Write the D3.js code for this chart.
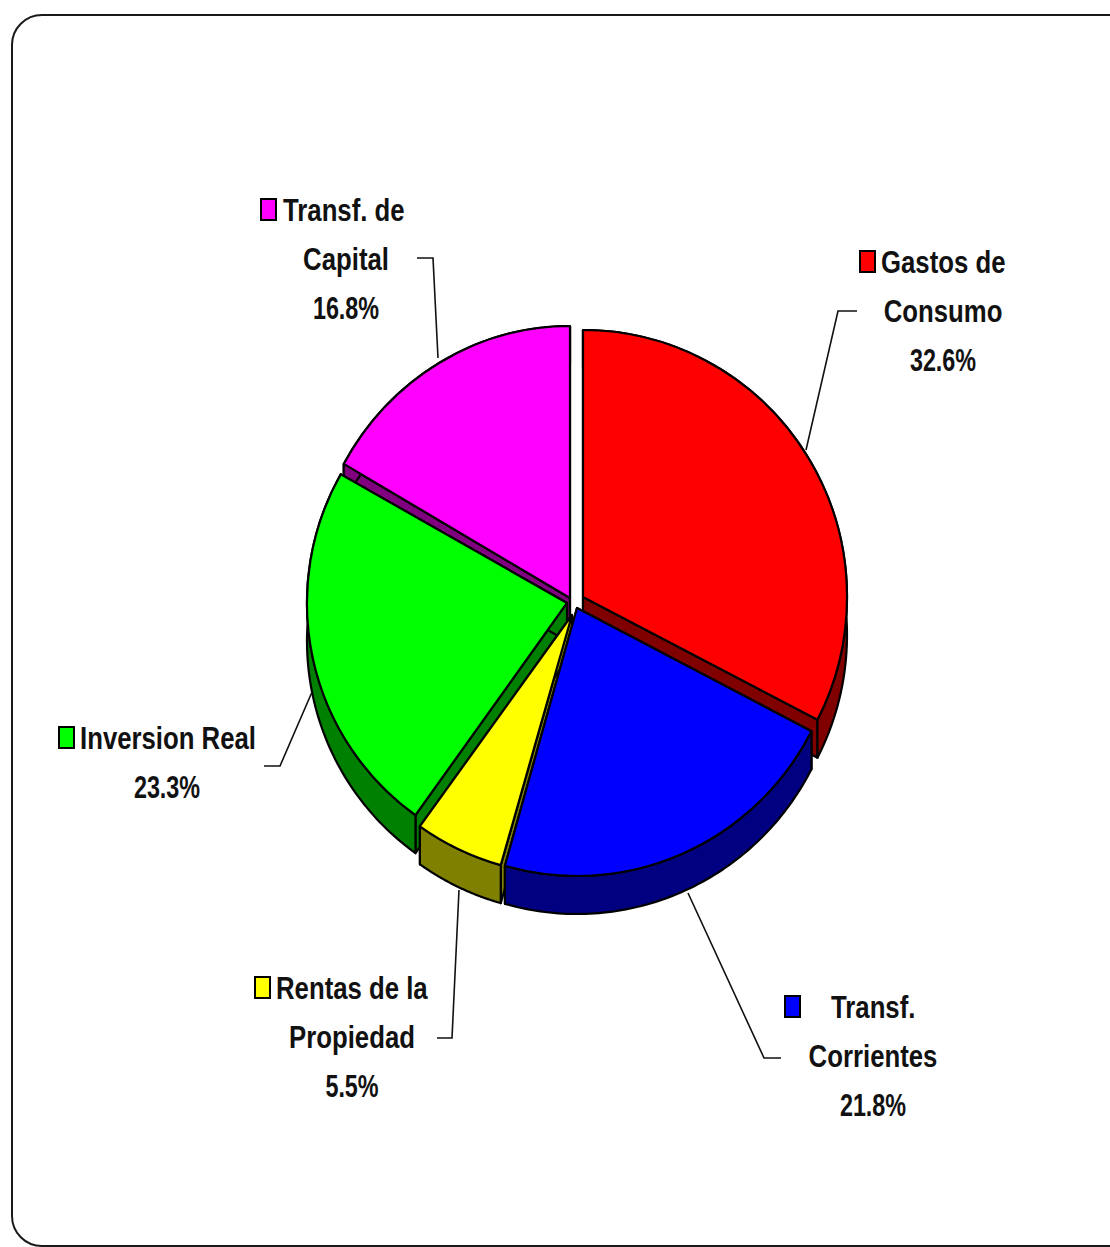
<!DOCTYPE html>
<html>
<head>
<meta charset="utf-8">
<style>html,body{margin:0;padding:0;background:#fff;overflow:hidden}svg{display:block}</style>
<script src="https://cdn.jsdelivr.net/npm/d3@7/dist/d3.min.js"></script>
</head>
<body>
<svg id="c" width="1110" height="1247"></svg>
<script>
const categories = ["Gastos de Consumo", "Transf. Corrientes", "Rentas de la Propiedad", "Inversion Real", "Transf. de Capital"];
const values = [32.6, 21.8, 5.5, 23.3, 16.8];
const topColors = ["#ff0000", "#0000ff", "#ffff00", "#00ff00", "#ff00ff"];
const sideColors = ["#800000", "#000080", "#808000", "#008000", "#800080"];
const valueLabels = ["32.6%", "21.8%", "5.5%", "23.3%", "16.8%"];

// layout, in the same order as categories
const labelLines = [["Gastos de", "Consumo"], ["Transf.", "Corrientes"], ["Rentas de la", "Propiedad"], ["Inversion Real"], ["Transf. de", "Capital"]];
const keyPos = [[860, 251], [785, 996], [255, 977], [59, 727], [261, 199]];
const firstTextX = [881, 831, 276, 80, 283];
const centerX = [943, 873, 352, 167, 346];
const leaders = [
  [[857, 311], [838, 311], [806, 450]],
  [[781, 1058], [764, 1058], [688, 893]],
  [[437, 1038], [452, 1038], [459, 890]],
  [[264, 766], [280, 766], [312, 692]],
  [[417, 258], [433, 258], [438, 358]]
];
const apexes = [[583, 597], [577, 608], [572, 615], [567, 603], [570, 598]];
const radiiX = [264, 264, 261, 260, 260];
const radiiY = [267, 268, 260, 261, 272];
const depth = 38;

const svg = d3.select("#c");

// frame
svg.append("rect").attr("x", 12).attr("y", 15).attr("width", 1130).attr("height", 1231)
  .attr("rx", 30).attr("ry", 30).attr("fill", "#fff").attr("stroke", "#1a1a1a").attr("stroke-width", 2);

const arcs = d3.pie().sort(null).value(d => d)(values);
const pt = (i, a, dy) => [apexes[i][0] + radiiX[i] * Math.sin(a), apexes[i][1] - radiiY[i] * Math.cos(a) + dy];
const arcPts = (i, dy, rev) => {
  const d = arcs[i], n = 80;
  const pts = d3.range(n + 1).map(k => pt(i, d.startAngle + (d.endAngle - d.startAngle) * k / n, dy));
  return rev ? pts.reverse() : pts;
};
const line = d3.line();
const style = (s, fill) => s.attr("fill", fill).attr("stroke", "#000").attr("stroke-width", 2.2).attr("stroke-linejoin", "round");

const sideG = svg.append("g");
[0, 4, 3, 2, 1].forEach(i => {
  const d = arcs[i], o = apexes[i];
  const apexB = [o[0], o[1] + depth];
  [d.startAngle, d.endAngle].forEach(a => {
    style(sideG.append("path").attr("d", line([o, apexB, pt(i, a, depth), pt(i, a, 0)]) + "Z"), sideColors[i]);
  });
  style(sideG.append("path").attr("d", line(arcPts(i, 0, false).concat(arcPts(i, depth, true))) + "Z"), sideColors[i]);
});

const arcGen = d3.arc().innerRadius(0).outerRadius(1);
const topG = svg.append("g");
arcs.forEach((d, i) => {
  style(topG.append("path").attr("d", arcGen(d))
    .attr("transform", `translate(${apexes[i][0]},${apexes[i][1]}) scale(${radiiX[i]},${radiiY[i]})`)
    .attr("vector-effect", "non-scaling-stroke"), topColors[i]);
});

// leader lines
leaders.forEach(l => {
  svg.append("path").attr("d", line(l)).attr("fill", "none").attr("stroke", "#111").attr("stroke-width", 1.6);
});

// labels
const lineGap = 49, squeeze = 0.805, pctSqueeze = 0.73;
const txt = (x, y, s, anchor, sq) => svg.append("text")
  .attr("transform", `translate(${x},${y}) scale(${sq},1)`)
  .attr("text-anchor", anchor)
  .attr("font-family", "'Liberation Sans', Arial, sans-serif")
  .attr("font-weight", 700).attr("font-size", 32).attr("fill", "#111").text(s);

categories.forEach((c, i) => {
  const k = keyPos[i];
  svg.append("rect").attr("x", k[0]).attr("y", k[1]).attr("width", 15).attr("height", 21)
    .attr("fill", topColors[i]).attr("stroke", "#000").attr("stroke-width", 2);
  const base = k[1] + 22;
  const lines = labelLines[i];
  lines.forEach((t, j) => {
    if (j === 0) txt(firstTextX[i], base, t, "start", squeeze);
    else txt(centerX[i], base + j * lineGap, t, "middle", squeeze);
  });
  txt(centerX[i], base + lines.length * lineGap, valueLabels[i], "middle", pctSqueeze);
});
</script>
</body>
</html>
